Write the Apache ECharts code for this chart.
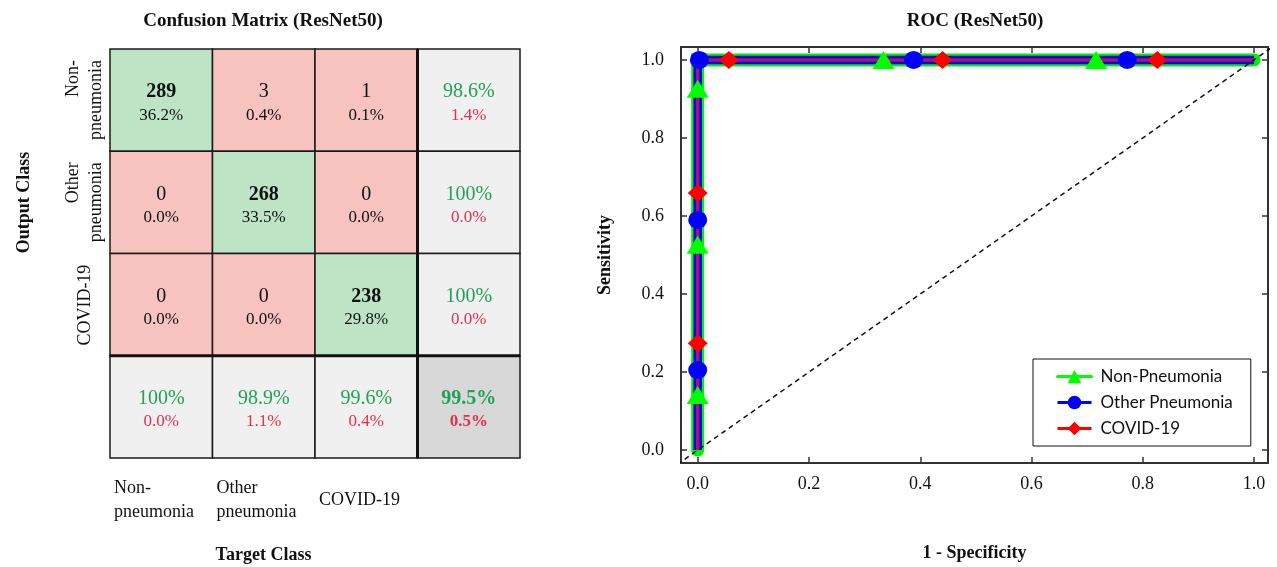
<!DOCTYPE html>
<html><head><meta charset="utf-8">
<script src="https://cdn.jsdelivr.net/npm/echarts@6/dist/echarts.min.js"></script>
<style>html,body{margin:0;padding:0;background:#fff}#c{width:1277px;height:567px}</style>
</head><body><div id="c"></div>
<script>
// ---------- Confusion matrix data ----------
const classLabels = ['Non-\npneumonia', 'Other\npneumonia', 'COVID-19'];
const counts = [[289, 3, 1], [0, 268, 0], [0, 0, 238]];
const cellPercents = [['36.2%', '0.4%', '0.1%'], ['0.0%', '33.5%', '0.0%'], ['0.0%', '0.0%', '29.8%']];
const rowCorrect = ['98.6%', '100%', '100%'];
const rowWrong = ['1.4%', '0.0%', '0.0%'];
const colCorrect = ['100%', '98.9%', '99.6%'];
const colWrong = ['0.0%', '1.1%', '0.4%'];
const totalCorrect = '99.5%';
const totalWrong = '0.5%';

// ---------- ROC data ----------
const seriesNames = ['Non-Pneumonia', 'Other Pneumonia', 'COVID-19'];
const curveFpr = [[0, 0, 1], [0, 0, 1], [0, 0, 1]];
const curveTpr = [[0, 1, 1], [0, 1, 1], [0, 1, 1]];
const markerFpr = [[0, 0, 0, 0.334, 0.716], [0, 0, 0.003, 0.388, 0.772], [0, 0, 0.056, 0.44, 0.826]];
const markerTpr = [[0.141, 0.526, 0.926, 1, 1], [0.205, 0.59, 1, 1, 1], [0.274, 0.659, 1, 1, 1]];
const chanceX = [-0.05, 1.05];
const chanceY = [-0.05, 1.05];

// ---------- styles ----------
const SERIF = 'Liberation Serif';
const GREEN_TXT = '#22a05a', RED_TXT = '#e3304b';
const FILL = { diag: '#bde5c5', off: '#f7c3bf', sum: '#f0f0f0', total: '#d8d8d8' };
const lineColors = ['#00f000', '#0000f0', '#a8146a'];
const markColors = ['#00ff00', '#0000ff', '#ff0000'];
const lineWidths = [13, 8.5, 3.5];
const symbols = ['triangle', 'circle', 'diamond'];
const symbolSizes = [[22, 18], [19, 18], [20, 18]];

const cells = [];
for (let r = 0; r < 3; r++) for (let c = 0; c < 3; c++)
  cells.push({ c, r, kind: r === c ? 'diag' : 'off', top: String(counts[r][c]), bottom: cellPercents[r][c] });
for (let r = 0; r < 3; r++) cells.push({ c: 3, r, kind: 'sum', top: rowCorrect[r], bottom: rowWrong[r] });
for (let c = 0; c < 3; c++) cells.push({ c, r: 3, kind: 'sum', top: colCorrect[c], bottom: colWrong[c] });
cells.push({ c: 3, r: 3, kind: 'total', top: totalCorrect, bottom: totalWrong });

function renderCell(params, api) {
  const d = cells[params.dataIndex];
  const p = api.coord([api.value(0), api.value(1)]);
  const s = api.size([1, 1]);
  const x0 = p[0] - s[0] / 2, y0 = p[1] - s[1] / 2;
  const isSum = d.kind === 'sum' || d.kind === 'total';
  const bold = d.kind === 'diag' || d.kind === 'total';
  const ch = [
    { type: 'rect', shape: { x: x0, y: y0, width: s[0], height: s[1] }, style: { fill: FILL[d.kind], stroke: '#1a1a1a', lineWidth: 1.5 } },
    { type: 'text', style: { text: d.top, x: p[0], y: p[1] - 8, align: 'center', verticalAlign: 'middle', fontFamily: SERIF, fontSize: 20, fontWeight: bold ? 'bold' : 'normal', fill: isSum ? GREEN_TXT : '#111' } },
    { type: 'text', style: { text: d.bottom, x: p[0], y: p[1] + 15, align: 'center', verticalAlign: 'middle', fontFamily: SERIF, fontSize: 17, fontWeight: d.kind === 'total' ? 'bold' : 'normal', fill: isSum ? RED_TXT : '#111' } }
  ];
  if (d.c === 3) ch.push({ type: 'line', shape: { x1: x0, y1: y0, x2: x0, y2: y0 + s[1] }, style: { stroke: '#111', lineWidth: 3 } });
  if (d.r === 3) ch.push({ type: 'line', shape: { x1: x0, y1: y0, x2: x0 + s[0], y2: y0 }, style: { stroke: '#111', lineWidth: 3 } });
  return { type: 'group', children: ch };
}

const axisCol = '#333';
const tickLabel = { fontFamily: SERIF, fontSize: 18, color: '#111' };
const nameStyle = { fontFamily: SERIF, fontSize: 18, fontWeight: 'bold', color: '#111', align: 'center', verticalAlign: 'middle' };
const rocX = { min: -0.03, max: 1.025, splitNumber: 5 };
const rocY = { min: -0.033, max: 1.033, splitNumber: 5 };
const frameLine = { show: true, onZero: false, lineStyle: { color: axisCol, width: 2 } };
const frameTick = { show: true, inside: true, length: 6, lineStyle: { color: axisCol, width: 1.5 } };

const rowRich = { r: { width: 80, align: 'right', fontFamily: SERIF, fontSize: 18, lineHeight: 23, color: '#111' } };

const series = [{
  type: 'custom', xAxisIndex: 0, yAxisIndex: 0, renderItem: renderCell,
  data: cells.map(d => [d.c, d.r]), silent: true
}];
for (let i = 0; i < 3; i++) {
  series.push({
    type: 'line', name: seriesNames[i], xAxisIndex: 3, yAxisIndex: 2,
    data: curveFpr[i].map((x, k) => [x, curveTpr[i][k]]),
    symbol: symbols[i], symbolSize: symbolSizes[i], showSymbol: false,
    lineStyle: { color: lineColors[i], width: lineWidths[i], cap: i === 0 ? 'round' : 'butt', join: 'miter' },
    itemStyle: { color: markColors[i], borderWidth: 0 }, clip: false, animation: false, z: 2 + i
  });
}
for (let i = 0; i < 3; i++) {
  series.push({
    type: 'scatter', name: seriesNames[i], xAxisIndex: 3, yAxisIndex: 2,
    data: markerFpr[i].map((x, k) => [x, markerTpr[i][k]]),
    symbol: symbols[i], symbolSize: symbolSizes[i],
    itemStyle: { color: markColors[i], borderWidth: 0, opacity: 1 }, clip: false, animation: false, z: 8 + i
  });
}
series.push({
  type: 'line', xAxisIndex: 3, yAxisIndex: 2, data: chanceX.map((x, k) => [x, chanceY[k]]),
  symbol: 'none', lineStyle: { color: '#111', width: 1.5, type: [5, 4] }, clip: true, silent: true, z: 12, animation: false
});

const option = {
  animation: false,
  backgroundColor: '#fff',
  title: [
    { text: 'Confusion Matrix (ResNet50)', left: 263, top: 12, textAlign: 'center', padding: 0, textStyle: { fontFamily: SERIF, fontSize: 19, fontWeight: 'bold', color: '#111' } },
    { text: 'ROC (ResNet50)', left: 975, top: 12, textAlign: 'center', padding: 0, textStyle: { fontFamily: SERIF, fontSize: 19, fontWeight: 'bold', color: '#111' } }
  ],
  legend: {
    orient: 'vertical', left: 1033, top: 359, padding: [9, 18, 9, 23],
    itemWidth: 34, itemHeight: 17, itemGap: 9,
    borderColor: '#111', borderWidth: 1, backgroundColor: '#fff',
    textStyle: { fontFamily: 'Lato', fontSize: 17, color: '#111', padding: [0, 0, 0, 4] },
    lineStyle: { width: 3 },
    data: [{ name: seriesNames[0], lineStyle: { color: markColors[0], width: 3 } },
           { name: seriesNames[1], lineStyle: { color: markColors[1], width: 3 } },
           { name: seriesNames[2], lineStyle: { color: markColors[2], width: 3 } }]
  },
  grid: [
    { left: 110, top: 49, width: 410, height: 409, outerBoundsMode: 'none' },
    { left: 681, top: 47, width: 587, height: 416, outerBoundsMode: 'none' },
    { left: 110, top: 49, width: 307, height: 307, outerBoundsMode: 'none' }
  ],
  xAxis: [
    { gridIndex: 0, type: 'category', data: ['a', 'b', 'c', 'd'], show: false },
    { gridIndex: 0, type: 'category', boundaryGap: false, data: [...classLabels, '', ''], position: 'bottom',
      axisLine: { show: false }, axisTick: { show: false }, splitLine: { show: false },
      axisLabel: { interval: 0, align: 'left', verticalAlign: 'middle', margin: 42, lineHeight: 24, padding: [0, 0, 0, 4], ...tickLabel } },
    { gridIndex: 2, type: 'value', min: 0, max: 1, axisLine: { show: false }, axisTick: { show: false }, axisLabel: { show: false }, splitLine: { show: false },
      name: 'Target Class', nameLocation: 'middle', nameGap: 199, nameMoveOverlap: false, nameTextStyle: nameStyle },
    { gridIndex: 1, type: 'value', position: 'bottom', ...rocX, axisLine: frameLine, axisTick: frameTick, splitLine: { show: false },
      axisLabel: { margin: 12, showMinLabel: false, showMaxLabel: false, formatter: v => v.toFixed(1), ...tickLabel },
      name: '1 - Specificity', nameLocation: 'middle', nameGap: 90, nameMoveOverlap: false, nameTextStyle: nameStyle },
    { gridIndex: 1, type: 'value', position: 'top', ...rocX, axisLine: frameLine, axisTick: frameTick, splitLine: { show: false }, axisLabel: { show: false } }
  ],
  yAxis: [
    { gridIndex: 0, type: 'category', inverse: true, data: [...classLabels, ''],
      axisLine: { show: false }, axisTick: { show: false }, splitLine: { show: false },
      axisLabel: { interval: 0, rotate: 90, align: 'center', verticalAlign: 'middle', margin: 25,
        formatter: v => v ? v.split('\n').map(s => '{r|' + s + '}').join('\n') : '', rich: rowRich } },
    { gridIndex: 2, type: 'value', min: 0, max: 1, inverse: true, axisLine: { show: false }, axisTick: { show: false }, axisLabel: { show: false }, splitLine: { show: false },
      name: 'Output Class', nameLocation: 'middle', nameGap: 86, nameMoveOverlap: false, nameTextStyle: nameStyle },
    { gridIndex: 1, type: 'value', position: 'left', ...rocY, axisLine: frameLine, axisTick: frameTick, splitLine: { show: false },
      axisLabel: { margin: 17, showMinLabel: false, showMaxLabel: false, formatter: v => v.toFixed(1), ...tickLabel },
      name: 'Sensitivity', nameLocation: 'middle', nameGap: 76, nameMoveOverlap: false, nameTextStyle: nameStyle },
    { gridIndex: 1, type: 'value', position: 'right', ...rocY, axisLine: frameLine, axisTick: frameTick, splitLine: { show: false }, axisLabel: { show: false } }
  ],
  series
};
const chart = echarts.init(document.getElementById('c'), null, { renderer: 'canvas' });
chart.setOption(option);
</script></body></html>
